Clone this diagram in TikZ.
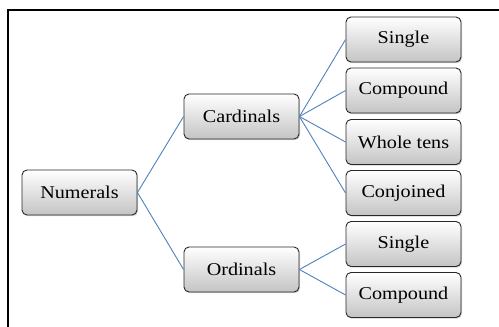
\documentclass[tikz,border=0pt]{standalone}
\usepackage{fontspec}
\setmainfont[FakeStretch=1.12]{Liberation Serif}
\usetikzlibrary{shadows}
\definecolor{linkblue}{RGB}{79,129,189}
\definecolor{boxbot}{RGB}{196,196,196}
\definecolor{boxline}{RGB}{40,40,40}
\tikzset{
  box/.style={draw=boxline, line width=0.9pt, rounded corners=5pt,
    top color=white, bottom color=boxbot,
    minimum width=115pt, minimum height=45pt, inner sep=0pt,
    font=\fontsize{18}{20}\selectfont,
    drop shadow={shadow xshift=1pt, shadow yshift=-1.2pt, opacity=0.35}},
  link/.style={draw=linkblue, line width=0.9pt}
}
\begin{document}
\begin{tikzpicture}[x=1pt,y=-1pt]
\useasboundingbox (0,0) rectangle (499,327);
\draw[line width=2pt] (8,327) -- (8,10) -- (499,10);
\node[box] (num) at (79.5,192.5) {Numerals};
\node[box] (card) at (241.5,116.5) {Cardinals};
\node[box] (ord) at (241.5,269.5) {Ordinals};
\node[box] (s1) at (403.5,39.5) {Single};
\node[box] (c1) at (403.5,90.5) {Compound};
\node[box] (w) at (403.5,142) {Whole tens};
\node[box] (cj) at (403.5,193) {Conjoined};
\node[box] (s2) at (403.5,244) {Single};
\node[box] (c2) at (403.5,295) {Compound};
\draw[link] (num.east) -- (card.west);
\draw[link] (num.east) -- (ord.west);
\foreach \t in {s1,c1,w,cj} \draw[link] (card.east) -- (\t.west);
\foreach \t in {s2,c2} \draw[link] (ord.east) -- (\t.west);
\end{tikzpicture}
\end{document}
